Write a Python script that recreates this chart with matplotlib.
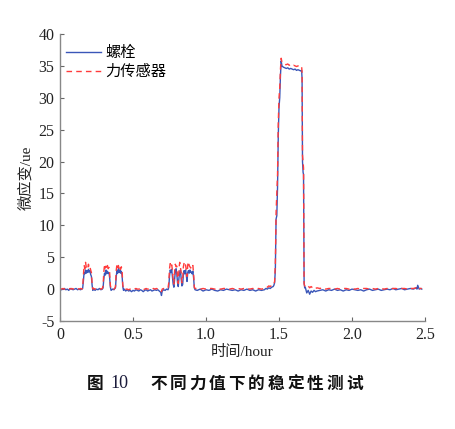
import matplotlib
matplotlib.use("Agg")
import matplotlib.pyplot as plt

# ---- data ----
time_h = [0.00, 0.01, 0.02, 0.03, 0.04, 0.05, 0.06, 0.07, 0.08, 0.09, 0.10, 0.11, 0.12, 0.13, 0.14, 0.15,
          0.155, 0.16, 0.165, 0.17, 0.175, 0.18, 0.185, 0.19, 0.195, 0.20, 0.205, 0.21, 0.215, 0.22, 0.225,
          0.23, 0.24, 0.25, 0.26, 0.27, 0.28, 0.29,
          0.295, 0.30, 0.305, 0.31, 0.315, 0.32, 0.325, 0.33, 0.335, 0.34, 0.345, 0.35,
          0.36, 0.37, 0.375, 0.38, 0.385, 0.39, 0.395, 0.40, 0.405, 0.41, 0.415, 0.42, 0.425, 0.43, 0.435,
          0.44, 0.45, 0.46, 0.47, 0.48, 0.49, 0.50, 0.51, 0.52, 0.53, 0.54, 0.55, 0.56, 0.57, 0.58, 0.59,
          0.60, 0.61, 0.62, 0.63, 0.64, 0.65, 0.66, 0.67, 0.68, 0.69, 0.695, 0.70, 0.71, 0.72, 0.73, 0.74,
          0.745, 0.75, 0.755, 0.76, 0.765, 0.77, 0.775, 0.78, 0.785, 0.79, 0.795, 0.80, 0.805, 0.81, 0.815,
          0.82, 0.825, 0.83, 0.835, 0.84, 0.845, 0.85, 0.855, 0.86, 0.865, 0.87, 0.875, 0.88, 0.885, 0.89,
          0.895, 0.90, 0.905, 0.91, 0.915, 0.92, 0.925,
          0.94, 0.96, 0.98, 1.00, 1.02, 1.04, 1.06, 1.08, 1.10, 1.12, 1.14, 1.16, 1.18, 1.20, 1.22, 1.24,
          1.26, 1.28, 1.30, 1.32, 1.34, 1.36, 1.38, 1.40, 1.41, 1.42, 1.43, 1.44, 1.45, 1.46, 1.465, 1.47,
          1.475, 1.48, 1.485, 1.49, 1.495, 1.50, 1.505, 1.51, 1.515, 1.52, 1.53, 1.54, 1.55, 1.56, 1.57,
          1.58, 1.59, 1.60, 1.61, 1.62, 1.63, 1.64, 1.65, 1.655, 1.658, 1.661, 1.665, 1.668, 1.672, 1.676,
          1.68, 1.69, 1.70, 1.71, 1.72, 1.73, 1.74, 1.75, 1.76, 1.78, 1.80, 1.82, 1.84, 1.86, 1.88, 1.90,
          1.92, 1.94, 1.96, 1.98, 2.00, 2.02, 2.04, 2.06, 2.08, 2.10, 2.12, 2.14, 2.16, 2.18, 2.20, 2.22,
          2.24, 2.26, 2.28, 2.30, 2.32, 2.34, 2.36, 2.38, 2.40, 2.42, 2.44, 2.445, 2.45, 2.46, 2.47, 2.478]

bolt = [0.0, -0.1, 0.0, 0.1, -0.1, 0.0, -0.2, 0.1, 0.0, -0.1, 0.0, 0.1, -0.1, 0.0, -0.1, 0.0,
        0.1, 1.2, 2.6, 2.4, 3.0, 2.5, 2.9, 2.6, 3.1, 2.7, 2.9, 2.3, 2.0, 0.6, -0.2,
        0.1, -0.2, 0.0, -0.1, 0.1, -0.1, 0.0,
        0.2, 1.6, 2.5, 2.2, 3.0, 2.4, 2.8, 2.5, 2.6, 1.8, 0.3, -0.2,
        0.0, -0.1, 0.1, 0.2, 1.9, 2.9, 2.5, 3.2, 2.6, 3.0, 2.5, 2.8, 2.2, 0.4, -0.2,
        0.0, -0.3, -0.1, -0.3, -0.2, -0.4, -0.2, -0.3, -0.1, -0.2, -0.3, -0.1, -0.2, -0.4, -0.2, -0.1,
        -0.3, -0.2, -0.1, -0.3, -0.2, -0.1, -0.2, -0.1, -0.3, -0.5, -1.0, -0.3, -0.1, -0.2, 0.0, -0.1,
        0.3, 2.0, 3.0, 2.6, 3.1, 2.0, 0.8, 0.3, 1.5, 2.8, 3.2, 2.4, 1.0, 0.4, 1.8,
        2.6, 3.0, 1.6, 0.5, 0.7, 2.2, 2.9, 2.4, 3.0, 2.2, 1.2, 2.6, 2.9, 2.5, 3.0,
        2.6, 2.7, 2.4, 2.8, 1.8, 0.2, -0.1,
        -0.2, 0.0, -0.3, -0.1, -0.2, 0.0, -0.2, -0.3, -0.1, -0.2, 0.0, -0.1, -0.2, -0.1, -0.3, -0.1,
        -0.2, 0.0, -0.2, -0.1, -0.3, -0.1, -0.2, -0.1, 0.1, 0.0, 0.2, 0.1, 0.3, 0.4, 0.6, 1.0,
        3.0, 11.0, 11.5, 16.0, 24.0, 28.5, 30.0, 33.5, 35.8, 35.0, 34.8, 34.7, 34.6, 34.7, 34.5,
        34.6, 34.5, 34.4, 34.5, 34.3, 34.4, 34.3, 34.2, 34.3, 33.0, 20.0, 18.3, 18.0, 1.0, 0.2,
        0.3, -0.6, -0.2, -0.8, -0.3, -0.5, -0.2, -0.4, -0.3, -0.2, -0.1, -0.3, -0.1, -0.2, 0.0, -0.2,
        -0.1, -0.3, -0.1, -0.2, 0.0, -0.1, -0.2, -0.1, -0.3, -0.1, 0.0, -0.2, -0.1, 0.0, -0.2, -0.1,
        0.0, -0.1, 0.1, -0.1, 0.0, 0.1, -0.1, 0.0, 0.1, 0.0, 0.2, 0.0, 0.6, 0.0, 0.1, 0.0]

sensor = [0.1, 0.0, 0.1, 0.0, 0.1, 0.0, 0.1, 0.0, 0.1, 0.0, 0.1, 0.0, 0.1, 0.0, 0.1, 0.0,
          0.2, 2.0, 3.8, 3.2, 4.2, 3.4, 3.6, 3.3, 3.9, 3.3, 3.5, 3.0, 2.6, 0.8, 0.0,
          0.1, 0.0, 0.1, 0.0, 0.1, 0.0, 0.1,
          0.5, 2.6, 3.9, 3.3, 3.6, 3.2, 3.7, 3.2, 3.4, 2.6, 0.6, 0.0,
          0.1, 0.0, 0.1, 0.4, 2.9, 3.9, 3.4, 3.7, 3.2, 3.6, 3.1, 3.5, 3.0, 0.7, 0.0,
          0.1, 0.0, 0.0, -0.1, 0.0, 0.0, 0.1, 0.0, 0.1, 0.0, 0.0, 0.1, 0.0, -0.1, 0.0, 0.1,
          0.0, 0.0, 0.1, 0.0, 0.1, 0.0, 0.1, 0.0, 0.0, -0.2, -0.4, 0.0, 0.1, 0.0, 0.1, 0.2,
          1.0, 3.2, 4.0, 3.5, 3.8, 3.0, 1.5, 0.8, 2.8, 3.9, 3.5, 3.6, 1.8, 0.9, 3.2,
          4.2, 3.4, 2.6, 1.0, 1.4, 3.5, 4.1, 3.6, 3.8, 3.0, 2.0, 3.8, 4.3, 3.7, 3.5,
          3.3, 3.6, 3.4, 3.7, 2.4, 0.3, 0.1,
          0.1, 0.0, 0.1, 0.0, 0.1, 0.1, 0.0, 0.1, 0.0, 0.1, 0.1, 0.0, 0.1, 0.0, 0.1, 0.0,
          0.1, 0.1, 0.0, 0.1, 0.0, 0.1, 0.0, 0.1, 0.3, 0.3, 0.5, 0.4, 0.6, 0.6, 0.8, 1.2,
          4.0, 12.0, 15.0, 18.0, 26.0, 30.0, 31.5, 34.5, 36.2, 35.6, 35.4, 35.2, 35.2, 35.3, 35.1,
          35.2, 35.0, 35.1, 35.0, 34.9, 35.0, 34.9, 34.8, 34.9, 34.0, 21.0, 19.8, 19.0, 0.8, 0.5,
          0.4, 0.3, 0.5, 0.2, 0.4, 0.2, 0.3, 0.1, 0.2, 0.1, 0.2, 0.0, 0.1, 0.1, 0.0, 0.1,
          0.0, 0.1, 0.1, 0.0, 0.1, 0.0, 0.1, 0.0, 0.1, 0.1, 0.0, 0.1, 0.0, 0.1, 0.1, 0.0,
          0.1, 0.0, 0.1, 0.1, 0.0, 0.1, 0.1, 0.0, 0.1, 0.1, 0.2, 0.1, 0.3, 0.1, 0.1, 0.1]

x_ticks = [0, 0.5, 1.0, 1.5, 2.0, 2.5]
x_ticklabels = ["0", "0.5", "1.0", "1.5", "2.0", "2.5"]
y_ticks = [-5, 0, 5, 10, 15, 20, 25, 30, 35, 40]
series_labels = ["螺栓", "力传感器"]
x_label = "时间/hour"
y_label = "微应变/ue"
caption_prefix = "图"
caption_number = "10"
caption_title = "不同力值下的稳定性测试"

CJK = "Noto Sans CJK SC"
SERIF = "Liberation Serif"
plt.rcParams["axes.unicode_minus"] = False

fig = plt.figure(figsize=(4.55, 4.29), dpi=100)
ax = fig.add_axes([60 / 455, 1 - 321 / 429, 365 / 455, (321 - 34) / 429])

ax.plot(time_h, bolt, color="#3a56b8", lw=1.0, label=series_labels[0])
ax.plot(time_h, sensor, color="#ff3b3b", lw=1.0, ls=(0, (4, 3)), label=series_labels[1])

ax.set_xlim(0, 2.5)
ax.set_ylim(-5, 40)
ax.set_xticks(x_ticks)
ax.set_xticklabels(x_ticklabels)
ax.set_yticks(y_ticks)
for lbl in ax.get_xticklabels() + ax.get_yticklabels():
    lbl.set_family(SERIF)
    lbl.set_fontsize(11.5)
    lbl.set_color("#222222")

for s in ["top", "right"]:
    ax.spines[s].set_visible(False)
for s in ["left", "bottom"]:
    ax.spines[s].set_color("#888888")
    ax.spines[s].set_linewidth(1.0)
ax.tick_params(direction="in", length=3, color="#666666", pad=4)

ax.set_xlabel(x_label, family=[SERIF, CJK], fontsize=11, color="#222222", labelpad=2)
ax.set_ylabel(y_label, family=[SERIF, CJK], fontsize=11, color="#222222", labelpad=4)

leg = ax.legend(loc="upper left", frameon=False, prop={"family": CJK, "size": 11},
                handlelength=2.3, handletextpad=0.25, labelspacing=0.12,
                borderaxespad=0.0, bbox_to_anchor=(0.0, 0.985))

# caption
fig.text(87 / 455, 1 - 384 / 429, caption_prefix, family=CJK, fontsize=12, fontweight="bold",
         va="center", ha="left", color="#111111")
fig.text(110 / 455, 1 - 384 / 429, caption_number, family=SERIF, fontsize=13,
         va="center", ha="left", color="#1a1a3a")
pitch = 19.6
for i, ch in enumerate(caption_title):
    fig.text((150 + i * pitch) / 455, 1 - 384 / 429, ch, family=CJK, fontsize=12,
             fontweight="bold", va="center", ha="left", color="#111111")

fig.savefig("out.png", dpi=100)
